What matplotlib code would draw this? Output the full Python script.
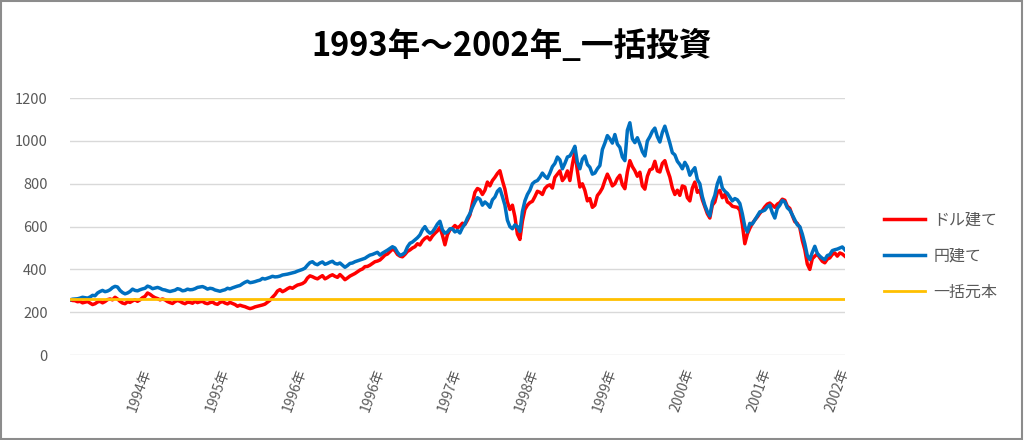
import numpy as np
import matplotlib
matplotlib.use("Agg")
import matplotlib.pyplot as plt
from matplotlib.patches import Rectangle

plt.rcParams["font.family"] = ["Noto Sans CJK JP", "DejaVu Sans"]

title = "1993年～2002年_一括投資"
year_labels = ["1994年", "1995年", "1996年", "1996年", "1997年",
               "1998年", "1999年", "2000年", "2001年", "2002年"]
series_names = ["ドル建て", "円建て", "一括元本"]

# ドル建て (about two points per 5 px)
usd_values = [
    258,
    255, 254, 249, 251, 244, 247, 250, 243, 236, 240, 248, 251, 244, 250, 259, 262, 258, 270,
    262, 251, 243, 240, 249, 246, 253, 258, 251, 258, 268, 274, 290, 284, 275, 268, 264, 258, 262, 258,
    250, 245, 241, 250, 255, 251, 244, 240, 247, 246, 242, 251, 245, 249, 251, 243, 240, 245, 248, 240,
    237, 246, 250, 243, 239, 246, 241, 236, 228, 233, 229, 226, 221, 217, 220, 225, 228, 231, 234, 238,
    247, 256, 270, 282, 299, 306, 296, 302, 310, 316, 312, 320, 327, 330, 334, 342, 360, 370, 366, 360,
    356, 364, 371, 356, 362, 370, 375, 368, 363, 376, 365, 352, 360, 369, 375, 381, 389, 397, 402, 413,
    414, 420, 428, 436, 439, 444, 455, 467, 472, 483, 495, 488, 470, 462, 459, 470, 484, 491, 500, 506,
    520, 514, 533, 545, 552, 538, 556, 569, 580, 597, 560, 515, 562, 585, 592, 605, 594, 602, 616, 610,
    630, 654, 710, 760, 778, 772, 750, 770, 808, 790, 815, 830, 848, 861, 815, 775, 715, 680, 700, 646,
    565, 540, 625, 680, 700, 712, 718, 740, 765, 760, 750, 778, 790, 795, 780, 830, 845, 860, 815, 830,
    860, 815, 890, 950, 860, 785, 800, 769, 720, 731, 690, 700, 745, 760, 780, 815, 845, 820, 790, 800,
    825, 840, 795, 777, 855, 908, 880, 861, 835, 854, 790, 775, 835, 865, 870, 905, 860, 855, 895, 908,
    865, 831, 780, 750, 770, 746, 790, 785, 735, 720, 780, 808, 760, 769, 725, 692, 660, 640, 700, 715,
    760, 769, 735, 750, 715, 708, 695, 692, 690, 677, 610, 520, 565, 592, 615, 631, 645, 662, 675, 692,
    705, 710, 700, 690, 705, 712, 728, 723, 695, 685, 652, 623, 615, 595, 535, 492, 425, 400, 450, 462,
    472, 454, 438, 431, 448, 454, 470, 477, 462, 477, 472, 462,
]

# 円建て
jpy_values = [
    258,
    261, 262, 263, 266, 270, 268, 266, 271, 279, 277, 290, 297, 302, 296, 299, 305, 315, 321,
    318, 302, 292, 286, 290, 297, 308, 302, 300, 305, 309, 312, 322, 318, 310, 313, 316, 312, 306, 304,
    300, 297, 300, 303, 310, 307, 300, 302, 308, 305, 306, 310, 316, 318, 320, 315, 308, 312, 310, 304,
    301, 298, 302, 305, 312, 309, 314, 318, 322, 325, 333, 340, 345, 338, 340, 343, 347, 350, 358, 355,
    359, 363, 368, 365, 366, 369, 374, 376, 378, 381, 384, 387, 392, 396, 400, 406, 420, 432, 436, 426,
    422, 430, 435, 424, 428, 434, 438, 428, 425, 430, 420, 410, 418, 428, 430, 436, 440, 444, 448, 452,
    460, 467, 470, 475, 480, 467, 476, 483, 490, 498, 506, 500, 480, 466, 470, 478, 505, 522, 528, 538,
    548, 561, 585, 600, 580, 569, 575, 592, 612, 625, 585, 569, 575, 590, 590, 575, 582, 570, 595, 612,
    640, 661, 690, 715, 735, 728, 700, 715, 705, 690, 725, 738, 765, 777, 740, 700, 630, 600, 590, 608,
    600, 577, 670, 720, 750, 770, 800, 810, 815, 830, 850, 835, 825, 850, 880, 895, 925, 912, 870, 895,
    925, 930, 950, 975, 900, 870, 915, 930, 890, 877, 845, 850, 870, 885, 960, 990, 1025, 1010, 990, 1030,
    985, 970, 925, 908, 1050, 1085, 1010, 992, 1015, 985, 950, 930, 1000, 1020, 1045, 1060, 1020, 995, 1040, 1069,
    1030, 990, 945, 935, 905, 890, 870, 900, 880, 840, 860, 875, 820, 800, 740, 700, 670, 650, 715, 746,
    800, 831, 780, 765, 755, 738, 720, 731, 725, 708, 660, 600, 575, 615, 612, 631, 650, 669, 672, 677,
    692, 700, 665, 640, 685, 700, 722, 715, 688, 677, 655, 631, 608, 600, 565, 520, 465, 446, 480, 508,
    475, 462, 452, 446, 465, 469, 488, 492, 495, 500, 505, 492,
]

principal = 260

x = np.arange(len(usd_values))
n = len(x)
tick_pos = np.linspace(0, n - 1, len(year_labels) + 1)[1:]

fig = plt.figure(figsize=(10.24, 4.4), dpi=100)
ax = fig.add_axes([0.0684, 0.193, 0.7566, 0.584])

ax.plot(x, usd_values, color="#FF0000", lw=2.5, label=series_names[0])
ax.plot(x, jpy_values, color="#0070C0", lw=2.5, label=series_names[1])
ax.plot(x, [principal] * n, color="#FFC000", lw=2.0, label=series_names[2])

ax.set_xlim(0, n - 1)
ax.set_ylim(0, 1200)
ax.set_yticks(range(0, 1201, 200))
ax.yaxis.grid(True, color="#D9D9D9", lw=1.0)
ax.set_axisbelow(True)
for s in ax.spines.values():
    s.set_visible(False)
ax.tick_params(axis="y", length=0, pad=16, labelsize=10.5, labelcolor="#595959")
ax.tick_params(axis="x", length=0, pad=10, labelsize=10, labelcolor="#595959")
ax.set_xticks(tick_pos)
ax.set_xticklabels(year_labels, rotation=70, ha="right", va="center",
                   rotation_mode="anchor")

fig.text(0.5, 0.895, title, ha="center", va="center",
         fontsize=23.5, fontweight="bold", color="black")

leg = ax.legend(loc="center left", bbox_to_anchor=(1.032, 0.385), frameon=False,
                fontsize=11.5, handlelength=2.6, labelspacing=1.2,
                handletextpad=0.5)
for t in leg.get_texts():
    t.set_color("#595959")

fig.patches.append(Rectangle((0.001, 0.002), 0.997, 0.995, transform=fig.transFigure,
                             fill=False, edgecolor="#8C8C8C", lw=1.5))

fig.savefig("out.png", dpi=100)
